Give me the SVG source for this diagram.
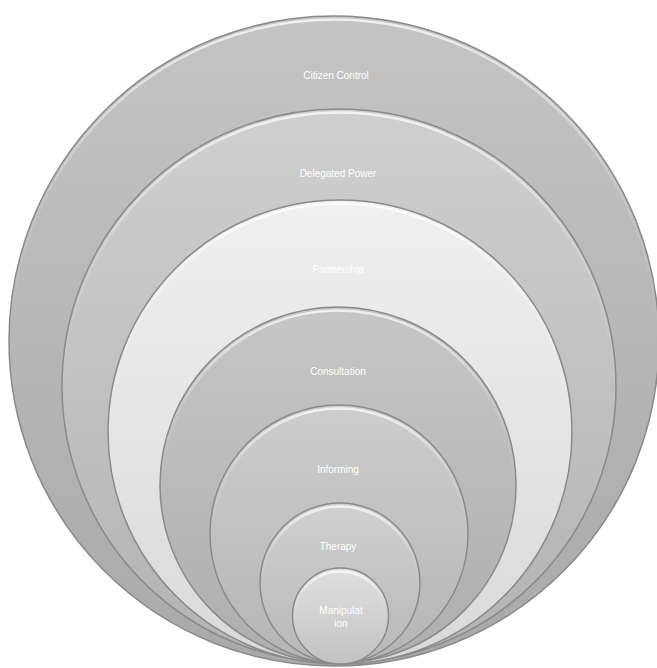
<svg xmlns="http://www.w3.org/2000/svg" width="657" height="668" viewBox="0 0 657 668">
<style>
.ring{stroke:#8a8a8a;stroke-width:1.5}
.hl{fill:none;stroke:url(#hl);stroke-width:2.5}
.lbl{font-family:"Liberation Sans",Arial,sans-serif;font-size:10px;fill:#ffffff;text-anchor:middle}
</style>
<defs>
<linearGradient id="hl" x1="0" y1="0" x2="0" y2="1"><stop offset="0" stop-color="#ffffff" stop-opacity="0.75"/><stop offset="0.25" stop-color="#ffffff" stop-opacity="0.15"/><stop offset="0.5" stop-color="#ffffff" stop-opacity="0"/></linearGradient>
<linearGradient id="g1" x1="0" y1="0" x2="0" y2="1"><stop offset="0" stop-color="#c4c4c4"/><stop offset="1" stop-color="#a9a9a9"/></linearGradient>
<linearGradient id="g2" x1="0" y1="0" x2="0" y2="1"><stop offset="0" stop-color="#cfcfcf"/><stop offset="1" stop-color="#b3b3b3"/></linearGradient>
<linearGradient id="g3" x1="0" y1="0" x2="0" y2="1"><stop offset="0" stop-color="#f0f0f0"/><stop offset="1" stop-color="#d9d9d9"/></linearGradient>
<linearGradient id="g4" x1="0" y1="0" x2="0" y2="1"><stop offset="0" stop-color="#c6c6c6"/><stop offset="1" stop-color="#aeaeae"/></linearGradient>
<linearGradient id="g5" x1="0" y1="0" x2="0" y2="1"><stop offset="0" stop-color="#cdcdcd"/><stop offset="1" stop-color="#b5b5b5"/></linearGradient>
<linearGradient id="g6" x1="0" y1="0" x2="0" y2="1"><stop offset="0" stop-color="#d0d0d0"/><stop offset="1" stop-color="#b8b8b8"/></linearGradient>
<linearGradient id="g7" x1="0" y1="0" x2="0" y2="1"><stop offset="0" stop-color="#e0e0e0"/><stop offset="1" stop-color="#c2c2c2"/></linearGradient>
</defs>
<rect width="657" height="668" fill="#ffffff"/>
<g id="citizen-control">
<circle class="ring" cx="334" cy="341" r="325" fill="url(#g1)"/>
<circle class="hl" cx="334" cy="342.5" r="323"/>
<text class="lbl" x="336" y="79">Citizen Control</text>
</g>
<g id="delegated-power">
<circle class="ring" cx="339" cy="386" r="277" fill="url(#g2)"/>
<circle class="hl" cx="339" cy="387.5" r="275"/>
<text class="lbl" x="338" y="177">Delegated Power</text>
</g>
<g id="partnership">
<circle class="ring" cx="340" cy="432" r="232" fill="url(#g3)"/>
<circle class="hl" cx="340" cy="433.5" r="230"/>
<text class="lbl" x="338" y="273">Partnership</text>
</g>
<g id="consultation">
<circle class="ring" cx="338" cy="485" r="178" fill="url(#g4)"/>
<circle class="hl" cx="338" cy="486.5" r="176"/>
<text class="lbl" x="338" y="375">Consultation</text>
</g>
<g id="informing">
<circle class="ring" cx="339" cy="534" r="129" fill="url(#g5)"/>
<circle class="hl" cx="339" cy="535.5" r="127"/>
<text class="lbl" x="338" y="473">Informing</text>
</g>
<g id="therapy">
<circle class="ring" cx="340" cy="583" r="80" fill="url(#g6)"/>
<circle class="hl" cx="340" cy="584.5" r="78"/>
<text class="lbl" x="338" y="550">Therapy</text>
</g>
<g id="manipulation">
<circle class="ring" cx="340.5" cy="616" r="48" fill="url(#g7)"/>
<circle class="hl" cx="340.5" cy="617.5" r="46"/>
<text class="lbl" x="341" y="614">Manipulat</text>
<text class="lbl" x="341" y="627">ion</text>
</g>
<g id="connectors"/>
</svg>
